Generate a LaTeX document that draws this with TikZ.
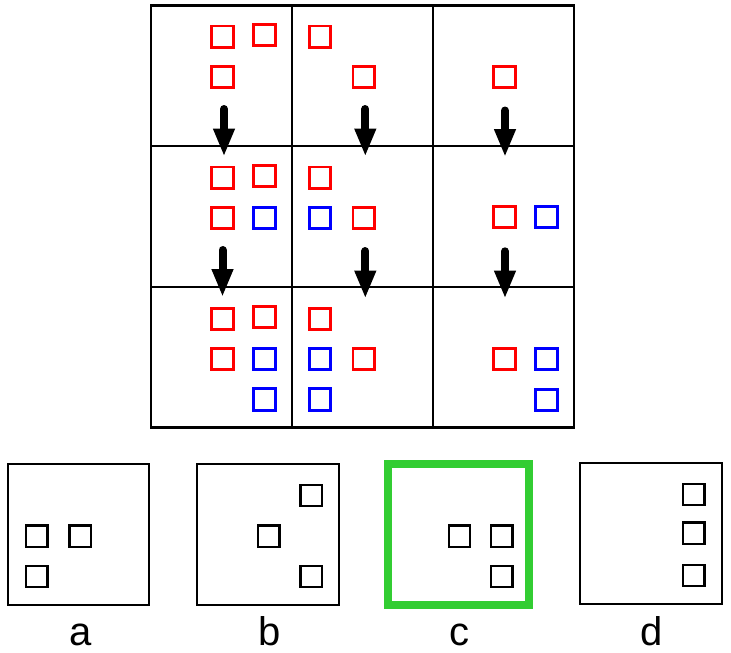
\documentclass[tikz,border=0pt]{standalone}
\usepackage{fontspec}
\setmainfont{Liberation Sans}
\usetikzlibrary{arrows.meta}
\definecolor{optgreen}{RGB}{50,205,50}
\tikzset{
  sq/.style={draw, minimum size=21.5pt, inner sep=0pt, outer sep=0pt, line width=2.6pt},
  rsq/.style={sq, draw=red},
  bsq/.style={sq, draw=blue},
  ksq/.style={sq, draw=black, line width=2.4pt},
  gridline/.style={line width=2.5pt, black},
  optbox/.style={line width=2pt, black},
  goodbox/.style={line width=8pt, optgreen},
  arr/.style={line width=8pt, line cap=round, -{Triangle[width=20pt,length=28pt]}},
  lab/.style={anchor=base, font=\fontsize{40}{46}\selectfont, inner sep=0pt}
}
\begin{document}
\begin{tikzpicture}[x=1pt,y=-1pt]
\useasboundingbox (0,0) rectangle (731,653);
% grid
\draw[gridline] (151,5.7) rectangle (574,427.5);
\draw[gridline] (292,5.7) -- (292,427.5);
\draw[gridline] (433,5.7) -- (433,427.5);
\draw[gridline] (151,146) -- (574,146);
\draw[gridline] (151,287) -- (574,287);
% row 1
\node[rsq] (r11a) at (222.5,36.7) {};
\node[rsq] (r11b) at (264.5,35) {};
\node[rsq] (r11c) at (222.5,77) {};
\node[rsq] (r12a) at (320,36.7) {};
\node[rsq] (r12b) at (363.7,77) {};
\node[rsq] (r13a) at (504.5,77) {};
% row 2
\node[rsq] (r21a) at (222.5,177.8) {};
\node[rsq] (r21b) at (264.5,176) {};
\node[rsq] (r21c) at (222.5,218) {};
\node[bsq] (b21d) at (264.5,218) {};
\node[rsq] (r22a) at (320,177.8) {};
\node[bsq] (b22b) at (320,218) {};
\node[rsq] (r22c) at (363.7,218) {};
\node[rsq] (r23a) at (504.5,217) {};
\node[bsq] (b23b) at (546.5,217) {};
% row 3
\node[rsq] (r31a) at (222.5,319) {};
\node[rsq] (r31b) at (264.5,317) {};
\node[rsq] (r31c) at (222.5,359) {};
\node[bsq] (b31d) at (264.5,359) {};
\node[bsq] (b31e) at (264.5,399.5) {};
\node[rsq] (r32a) at (320,319) {};
\node[bsq] (b32b) at (320,359) {};
\node[rsq] (r32c) at (363.7,359) {};
\node[bsq] (b32d) at (320,399.5) {};
\node[rsq] (r33a) at (504.5,359) {};
\node[bsq] (b33b) at (546.5,359) {};
\node[bsq] (b33c) at (546.5,400) {};
% arrows
\coordinate (s11) at (224,109); \coordinate (e11) at (224,156.5);
\coordinate (s12) at (365.3,109); \coordinate (e12) at (365.3,156.5);
\coordinate (s13) at (505,110.5); \coordinate (e13) at (505,157);
\coordinate (s21) at (222.5,250); \coordinate (e21) at (222.5,297);
\coordinate (s22) at (365.3,251); \coordinate (e22) at (365.3,298.5);
\coordinate (s23) at (505,251.3); \coordinate (e23) at (505,298.5);
\draw[arr] (s11) -- (e11);
\draw[arr] (s12) -- (e12);
\draw[arr] (s13) -- (e13);
\draw[arr] (s21) -- (e21);
\draw[arr] (s22) -- (e22);
\draw[arr] (s23) -- (e23);
% options
\draw[optbox] (8.3,464.3) rectangle (149.3,605.3);
\node[ksq] (a1) at (36.7,536.3) {};
\node[ksq] (a2) at (80.3,536.3) {};
\node[ksq] (a3) at (36.7,576.5) {};
\node[lab] (la) at (80.5,645) {a};
\draw[optbox] (197.3,464.3) rectangle (339,605.3);
\node[ksq] (b1) at (311.2,495.5) {};
\node[ksq] (b2) at (268.8,536.3) {};
\node[ksq] (b3) at (311.2,576.5) {};
\node[lab] (lb) at (270,645) {b};
\draw[goodbox] (388,464) rectangle (528.7,605.3);
\node[ksq] (c1) at (459.5,536.2) {};
\node[ksq] (c2) at (501.7,536.2) {};
\node[ksq] (c3) at (501.7,576.5) {};
\node[lab] (lc) at (459.5,645) {c};
\draw[optbox] (579.5,463) rectangle (721.5,604);
\node[ksq] (d1) at (693.7,494.5) {};
\node[ksq] (d2) at (693.7,533.2) {};
\node[ksq] (d3) at (693.7,575.5) {};
\node[lab] (ld) at (652,645) {d};
\end{tikzpicture}
\end{document}
